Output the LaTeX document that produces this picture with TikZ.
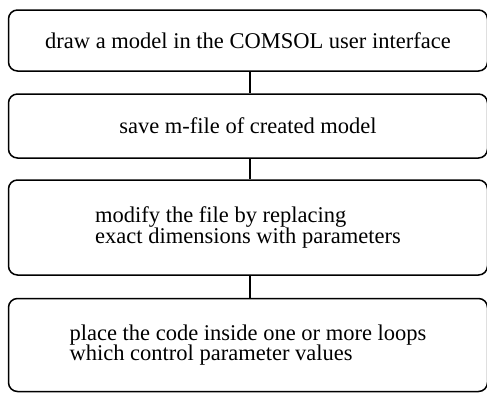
\documentclass[tikz,border=0pt]{standalone}
\usepackage{fontspec}
\setmainfont{Liberation Serif}
\newcommand\boxfont{\fontsize{22.5}{20.7}\selectfont\lineskiplimit=-20pt\relax}

\begin{document}
\begin{tikzpicture}[x=1pt, y=-1pt]
		\useasboundingbox (0,0) rectangle (487,394);
		\tikzstyle{every node}=[align=left, inner sep=0pt, font=\boxfont]
		\tikzstyle{stepbox}=[draw, line width=1.5pt, rounded corners=9pt, minimum width=479pt]
		\node[stepbox, minimum height=61pt] (model) at (248, 40.5) {draw a model in the COMSOL user interface};
		\node[stepbox, minimum height=64pt] (mfile) at (248, 126) {save m-file of created model};
		\node[stepbox, minimum height=95pt] (param) at (248, 227.5) {modify the file by replacing\\exact dimensions with parameters};
		\node[stepbox, minimum height=93pt] (loops) at (248, 345) {place the code inside one or more loops\\which control parameter values};

		\draw[line width=1.5pt]  ([xshift=2pt]model.south) to ([xshift=2pt]mfile.north);
		\draw[line width=1.5pt]  ([xshift=2pt]mfile.south) to ([xshift=2pt]param.north);
		\draw[line width=1.5pt]  ([xshift=2pt]param.south) to ([xshift=2pt]loops.north);
\end{tikzpicture}
\end{document}
